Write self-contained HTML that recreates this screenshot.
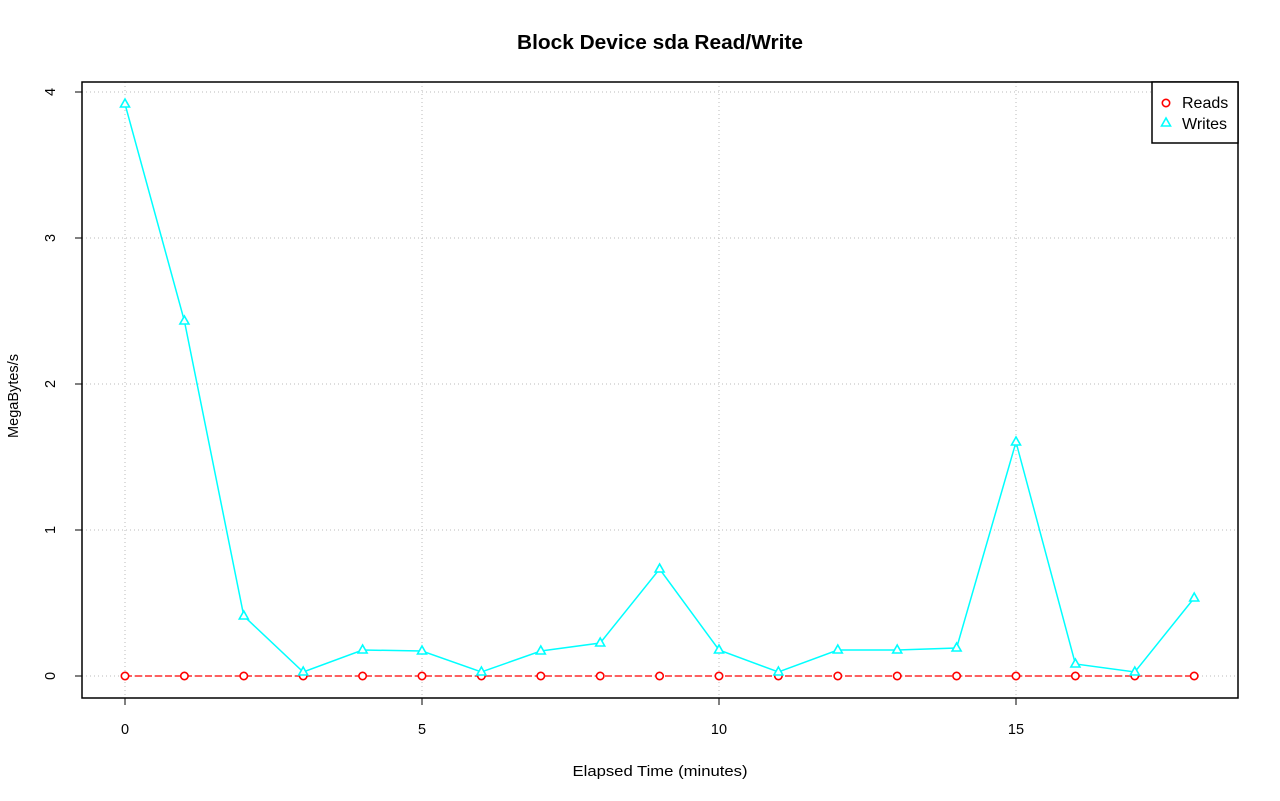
<!DOCTYPE html>
<html><head><meta charset="utf-8"><style>body{margin:0;background:#fff}svg{display:block}text{font-family:"Liberation Sans",sans-serif}</style></head><body>
<svg width="1280" height="801" xmlns="http://www.w3.org/2000/svg">
<rect width="1280" height="801" fill="#fff"/>
<text x="660" y="49" font-size="20" font-weight="bold" text-anchor="middle" textLength="286" lengthAdjust="spacingAndGlyphs">Block Device sda Read/Write</text>
<g stroke="#bbb" stroke-width="1" stroke-dasharray="1,3">
<line x1="125" y1="82" x2="125" y2="698"/><line x1="422" y1="82" x2="422" y2="698"/><line x1="719" y1="82" x2="719" y2="698"/><line x1="1016" y1="82" x2="1016" y2="698"/>
<line x1="82" y1="676" x2="1238" y2="676"/><line x1="82" y1="530" x2="1238" y2="530"/><line x1="82" y1="384" x2="1238" y2="384"/><line x1="82" y1="238" x2="1238" y2="238"/><line x1="82" y1="92" x2="1238" y2="92"/>
</g>
<polyline fill="none" stroke="#f00" stroke-width="1.2" stroke-dasharray="7,3" points="125,676 1194.2,676"/>
<polyline fill="none" stroke="#0ff" stroke-width="1.5" points="125,104 184.4,321 243.8,616 303.2,672 362.6,650 422,651 481.4,672 540.8,651 600.2,643 659.6,569 719,650 778.4,672 837.8,650 897.2,650 956.6,648 1016,442 1075.4,664 1134.8,672 1194.2,598"/>
<g fill="#fff" stroke="#f00" stroke-width="1.6">
<circle cx="125" cy="676" r="3.7"/><circle cx="184.4" cy="676" r="3.7"/><circle cx="243.8" cy="676" r="3.7"/><circle cx="303.2" cy="676" r="3.7"/><circle cx="362.6" cy="676" r="3.7"/><circle cx="422" cy="676" r="3.7"/><circle cx="481.4" cy="676" r="3.7"/><circle cx="540.8" cy="676" r="3.7"/><circle cx="600.2" cy="676" r="3.7"/><circle cx="659.6" cy="676" r="3.7"/><circle cx="719" cy="676" r="3.7"/><circle cx="778.4" cy="676" r="3.7"/><circle cx="837.8" cy="676" r="3.7"/><circle cx="897.2" cy="676" r="3.7"/><circle cx="956.6" cy="676" r="3.7"/><circle cx="1016" cy="676" r="3.7"/><circle cx="1075.4" cy="676" r="3.7"/><circle cx="1134.8" cy="676" r="3.7"/><circle cx="1194.2" cy="676" r="3.7"/>
</g>
<g fill="#fff" stroke="#0ff" stroke-width="1.6">
<path d="M125,99l-4.5,8h9z"/><path d="M184.4,316l-4.5,8h9z"/><path d="M243.8,611l-4.5,8h9z"/><path d="M303.2,667l-4.5,8h9z"/><path d="M362.6,645l-4.5,8h9z"/><path d="M422,646l-4.5,8h9z"/><path d="M481.4,667l-4.5,8h9z"/><path d="M540.8,646l-4.5,8h9z"/><path d="M600.2,638l-4.5,8h9z"/><path d="M659.6,564l-4.5,8h9z"/><path d="M719,645l-4.5,8h9z"/><path d="M778.4,667l-4.5,8h9z"/><path d="M837.8,645l-4.5,8h9z"/><path d="M897.2,645l-4.5,8h9z"/><path d="M956.6,643l-4.5,8h9z"/><path d="M1016,437l-4.5,8h9z"/><path d="M1075.4,659l-4.5,8h9z"/><path d="M1134.8,667l-4.5,8h9z"/><path d="M1194.2,593l-4.5,8h9z"/>
</g>
<rect x="82" y="82" width="1156" height="616" fill="none" stroke="#000" stroke-width="1.5"/>
<g stroke="#000" stroke-width="1">
<line x1="125" y1="698" x2="125" y2="705"/><line x1="422" y1="698" x2="422" y2="705"/><line x1="719" y1="698" x2="719" y2="705"/><line x1="1016" y1="698" x2="1016" y2="705"/>
<line x1="82" y1="676" x2="75" y2="676"/><line x1="82" y1="530" x2="75" y2="530"/><line x1="82" y1="384" x2="75" y2="384"/><line x1="82" y1="238" x2="75" y2="238"/><line x1="82" y1="92" x2="75" y2="92"/>
</g>
<g font-size="14.5" text-anchor="middle">
<text x="125" y="734">0</text><text x="422" y="734">5</text><text x="719" y="734">10</text><text x="1016" y="734">15</text>
<text transform="translate(55,676) rotate(-90)">0</text><text transform="translate(55,530) rotate(-90)">1</text><text transform="translate(55,384) rotate(-90)">2</text><text transform="translate(55,238) rotate(-90)">3</text><text transform="translate(55,92) rotate(-90)">4</text>
<text x="660" y="776" textLength="175" lengthAdjust="spacingAndGlyphs">Elapsed Time (minutes)</text>
<text transform="translate(18,396) rotate(-90)" textLength="84" lengthAdjust="spacingAndGlyphs">MegaBytes/s</text>
</g>
<rect x="1152" y="82" width="86" height="61" fill="#fff" stroke="#000" stroke-width="1.5"/>
<circle cx="1166" cy="103" r="3.7" fill="none" stroke="#f00" stroke-width="1.6"/>
<path d="M1166,118l-4.5,8h9z" fill="none" stroke="#0ff" stroke-width="1.6"/>
<text x="1182" y="108" font-size="16">Reads</text>
<text x="1182" y="129" font-size="16">Writes</text>
</svg>
</body></html>
